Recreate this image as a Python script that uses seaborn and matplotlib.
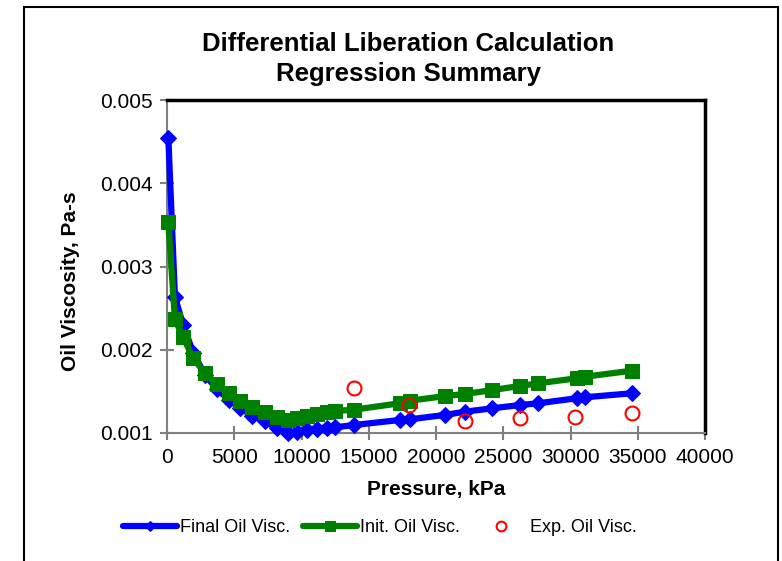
import numpy as np
import pandas as pd
import matplotlib
matplotlib.use('Agg')
import matplotlib.pyplot as plt
import seaborn as sns
from matplotlib.patches import Rectangle

# data
pressure = [100, 590, 1200, 1960, 2820, 3690, 4610, 5430, 6340, 7290, 8150, 9000,
            9640, 10380, 11130, 11870, 12490, 13900, 17300, 18050, 20700, 22150,
            24200, 26240, 27600, 30450, 31070, 34540]
final_visc = [0.004547, 0.002637, 0.002297, 0.00196, 0.00170, 0.00153, 0.00140, 0.00130,
              0.00121, 0.00114, 0.00106, 0.00100, 0.001016, 0.001036, 0.001044, 0.001056,
              0.001068, 0.001096, 0.001156, 0.001164, 0.001218, 0.001256, 0.001297,
              0.001336, 0.001357, 0.001417, 0.001429, 0.001477]
init_visc = [0.003531, 0.002366, 0.002149, 0.001897, 0.001717, 0.001589, 0.001477, 0.001388,
             0.001316, 0.001256, 0.001196, 0.001156, 0.001176, 0.001204, 0.001228, 0.001256,
             0.001264, 0.001280, 0.001357, 0.001388, 0.001444, 0.001468, 0.001516,
             0.001565, 0.001597, 0.001657, 0.001676, 0.001748]
exp_pressure = [13920, 18020, 22150, 26240, 30370, 34540]
exp_visc = [0.001537, 0.001336, 0.001148, 0.001176, 0.001196, 0.001244]

df = pd.DataFrame({'p': pressure, 'final': final_visc, 'init': init_visc})
dfe = pd.DataFrame({'p': exp_pressure, 'exp': exp_visc})

sns.set_theme(style='white')
plt.rcParams['font.family'] = ['Liberation Sans', 'DejaVu Sans']
plt.rcParams['text.color'] = 'black'

fig = plt.figure(figsize=(7.82, 5.61), dpi=100)
ax = fig.add_axes([167/782, 1-433/561, (705-167)/782, (433-100)/561])

sns.lineplot(data=df, x='p', y='final', ax=ax, color='blue', linewidth=4.5,
             marker='D', markersize=8, markeredgecolor='blue', label='Final Oil Visc.',
             clip_on=False, zorder=3)
sns.lineplot(data=df, x='p', y='init', ax=ax, color='green', linewidth=4.5,
             marker='s', markersize=10, markeredgecolor='green', label='Init. Oil Visc.',
             clip_on=False, zorder=4)
sns.lineplot(data=dfe, x='p', y='exp', ax=ax, color='red', linestyle='',
             marker='o', markersize=10, markerfacecolor='none', markeredgecolor='red',
             markeredgewidth=1.5, label='Exp. Oil Visc.', clip_on=False, zorder=5)

ax.set_xlim(0, 40000)
ax.set_ylim(0.001, 0.005)
ax.set_xticks(np.arange(0, 40001, 5000))
ax.set_yticks(np.arange(0.001, 0.00501, 0.001))
ax.set_yticklabels(['0.001', '0.002', '0.003', '0.004', '0.005'])
ax.tick_params(axis='both', labelsize=15, color='gray', direction='inout', length=10,
               width=1.5, left=True, bottom=True, labelcolor='black')
ax.tick_params(axis='x', pad=6)
ax.tick_params(axis='y', pad=5)
for s in ['left', 'bottom']:
    ax.spines[s].set_color('gray')
    ax.spines[s].set_linewidth(1.5)
for s in ['top', 'right']:
    ax.spines[s].set_color('black')
    ax.spines[s].set_linewidth(2.5)
ax.set_xlabel('')
ax.set_ylabel('')
ax.grid(False)

fig.text(436/782, 1-490/561, 'Pressure, kPa', ha='center', va='center',
         fontsize=15, fontweight='bold', color='black')
fig.text(71/782, 1-281/561, 'Oil Viscosity, Pa-s', ha='center', va='center',
         rotation=90, fontsize=15, fontweight='bold', color='black')
fig.text(408/782, 1-59/561, 'Differential Liberation Calculation\nRegression Summary',
         ha='center', va='center', fontsize=18.5, fontweight='bold', linespacing=1.35,
         color='black')

ax.legend(loc='center', bbox_to_anchor=(380/782, 1-528/561), bbox_transform=fig.transFigure,
          ncol=3, frameon=False, fontsize=13, handlelength=3.0, columnspacing=0.75,
          handletextpad=0.15, markerscale=0.7, labelcolor='black')

fig.patches.append(Rectangle((24/782, -0.05), (778-24)/782, 1.05-7/561,
                             transform=fig.transFigure, fill=False, edgecolor='black',
                             linewidth=1.5, figure=fig))

fig.savefig('out.png', dpi=100)
